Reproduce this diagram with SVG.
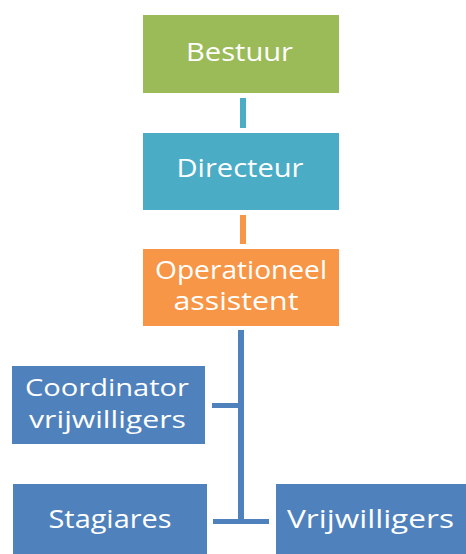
<svg xmlns="http://www.w3.org/2000/svg" width="466" height="554" viewBox="0 0 466 554">
<style>
.t{font-family:"Open Sans","Noto Sans","Liberation Sans",sans-serif;font-size:25px;fill:#ffffff;text-anchor:middle}
.s{font-size:24px}
</style>
<rect width="466" height="554" fill="#ffffff"/>
<g id="connectors">
<rect x="240" y="98" width="6" height="30" fill="#4BACC6"/>
<rect x="240" y="215" width="6" height="29" fill="#F79646"/>
<rect x="238" y="330" width="6" height="194" fill="#4F81BD"/>
<rect x="212" y="403" width="29" height="5" fill="#4F81BD"/>
<rect x="213" y="519" width="56" height="5" fill="#4F81BD"/>
</g>
<g id="bestuur">
<rect x="143" y="15" width="196" height="78" fill="#9BBB59"/>
<text class="t" x="239.5" y="61" textLength="107" lengthAdjust="spacingAndGlyphs">Bestuur</text>
</g>
<g id="directeur">
<rect x="143" y="133" width="196" height="77" fill="#4BACC6"/>
<text class="t" x="240" y="177" textLength="127" lengthAdjust="spacingAndGlyphs">Directeur</text>
</g>
<g id="operationeel">
<rect x="143" y="249" width="196" height="77" fill="#F79646"/>
<text class="t" x="241" y="279" textLength="172" lengthAdjust="spacingAndGlyphs">Operationeel</text>
<text class="t" x="236" y="310" textLength="125" lengthAdjust="spacingAndGlyphs">assistent</text>
</g>
<g id="coordinator">
<rect x="12" y="366" width="193" height="78" fill="#4F81BD"/>
<text class="t s" x="107" y="396" textLength="164" lengthAdjust="spacingAndGlyphs">Coordinator</text>
<text class="t s" x="107.5" y="428" textLength="157" lengthAdjust="spacingAndGlyphs">vrijwilligers</text>
</g>
<g id="stagiares">
<rect x="13" y="484" width="194" height="75" fill="#4F81BD"/>
<text class="t" x="110" y="528" textLength="123" lengthAdjust="spacingAndGlyphs">Stagiares</text>
</g>
<g id="vrijwilligers">
<rect x="276" y="484" width="195" height="75" fill="#4F81BD"/>
<text class="t" x="370.5" y="528" textLength="167" lengthAdjust="spacingAndGlyphs">Vrijwilligers</text>
</g>
</svg>
